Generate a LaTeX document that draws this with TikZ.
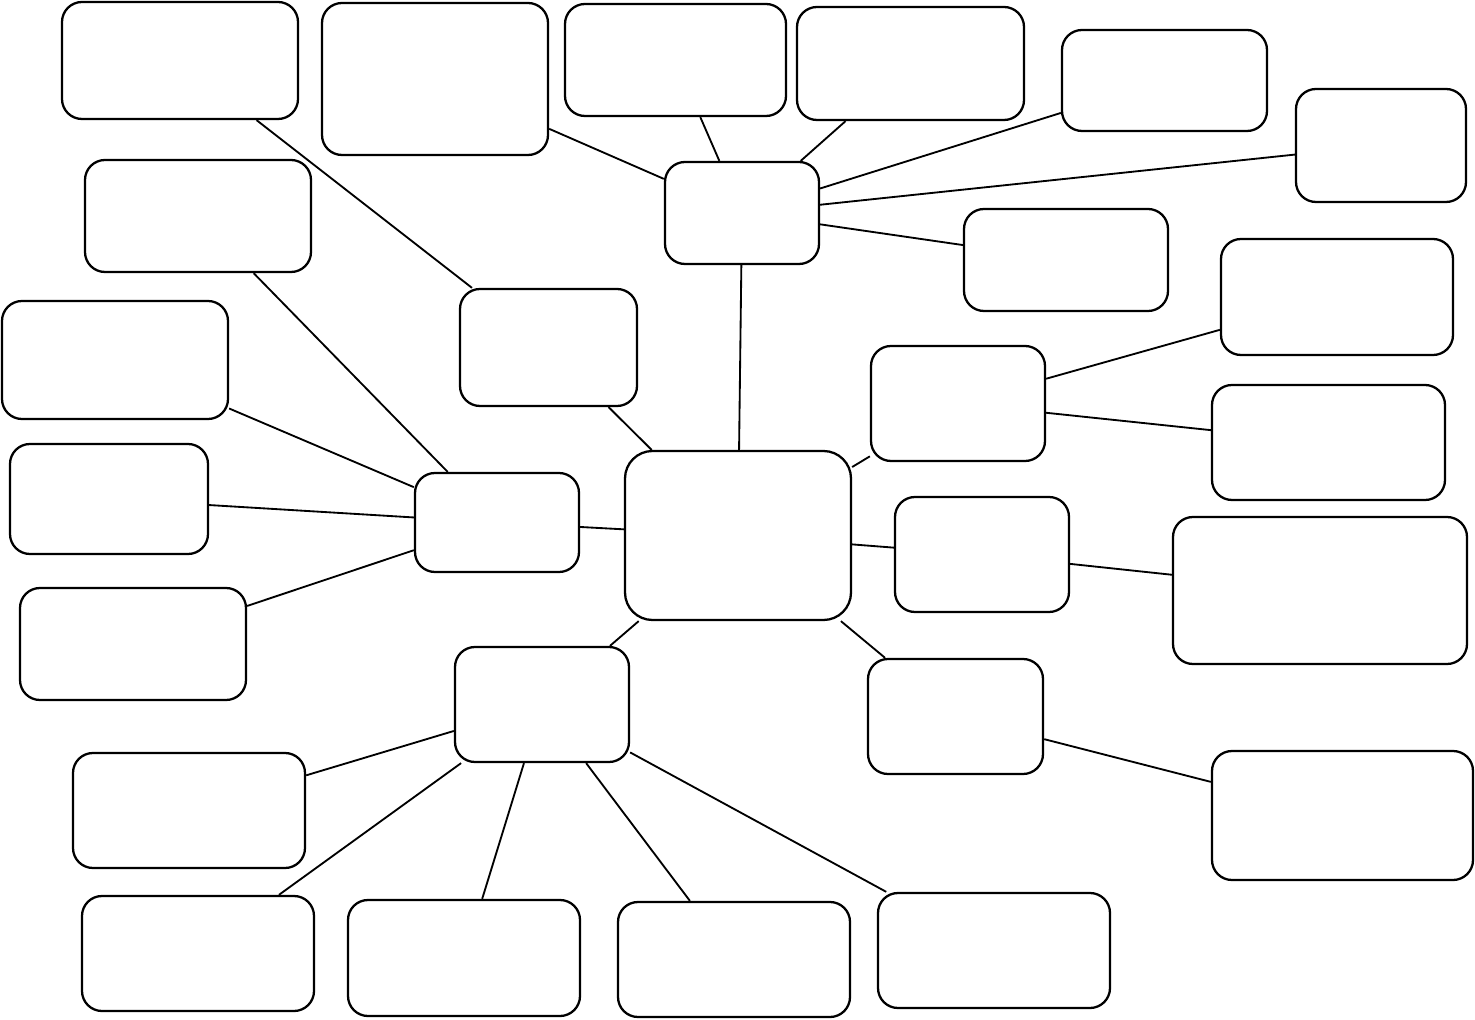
\documentclass[tikz,border=0pt]{standalone}
\usepackage{tikz}
\usetikzlibrary{positioning}

\begin{document}
\begin{tikzpicture}[
    x=0.02cm, y=-0.02cm,
    box/.style 2 args={draw,rounded corners=0.4cm,line width=1.3pt,inner sep=0pt,
        minimum width=#1*0.02cm,minimum height=#2*0.02cm},
    link/.style={line width=1.05pt}
]
\useasboundingbox (0,0) rectangle (1475,1020);
% centre and hubs
\node[box={226}{169},rounded corners=0.55cm] (cen) at (738,535.5) {};
\node[box={154}{102}] (htop) at (742,213) {};
\node[box={177}{117}] (hmid) at (548.5,347.5) {};
\node[box={164}{99}] (hleft) at (497,522.5) {};
\node[box={174}{115}] (hbot) at (542,704.5) {};
\node[box={174}{115}] (hra) at (958,403.5) {};
\node[box={174}{115}] (hrb) at (982,554.5) {};
\node[box={175}{115}] (hrc) at (955.5,716.5) {};
% top leaves
\node[box={236}{117}] (t1) at (180,60.5) {};
\node[box={226}{152}] (t2) at (435,79) {};
\node[box={221}{112}] (t3) at (675.5,60) {};
\node[box={227}{113}] (t4) at (910.5,63.5) {};
\node[box={205}{101}] (t5) at (1164.5,80.5) {};
\node[box={170}{113}] (t6) at (1381,145.5) {};
\node[box={204}{102}] (t7) at (1066,260) {};
% left leaves
\node[box={226}{112}] (l1) at (198,216) {};
\node[box={226}{118}] (l2) at (115,360) {};
\node[box={198}{110}] (l3) at (109,499) {};
\node[box={226}{112}] (l4) at (133,644) {};
% bottom leaves
\node[box={232}{115}] (b1) at (189,810.5) {};
\node[box={232}{115}] (b2) at (198,953.5) {};
\node[box={232}{116}] (b3) at (464,958) {};
\node[box={232}{115}] (b4) at (734,959.5) {};
\node[box={232}{115}] (b5) at (994,950.5) {};
% right leaves
\node[box={232}{116}] (ra1) at (1337,297) {};
\node[box={233}{115}] (ra2) at (1328.5,442.5) {};
\node[box={294}{147}] (rb1) at (1320,590.5) {};
\node[box={261}{129}] (rc1) at (1342.5,815.5) {};
% links
\foreach \h in {htop,hmid,hleft,hbot,hra,hrb,hrc}
    \draw[link] (cen) -- (\h);
\foreach \s in {t2,t3,t4,t5,t6,t7}
    \draw[link] (htop) -- (\s);
\draw[link] (hmid) -- (t1);
\foreach \s in {l1,l2,l3,l4}
    \draw[link] (hleft) -- (\s);
\foreach \s in {b1,b2,b3,b4,b5}
    \draw[link] (hbot) -- (\s);
\draw[link] (hra) -- (ra1);
\draw[link] (hra) -- (ra2);
\draw[link] (hrb) -- (rb1);
\draw[link] (hrc) -- (rc1);
\end{tikzpicture}
\end{document}
